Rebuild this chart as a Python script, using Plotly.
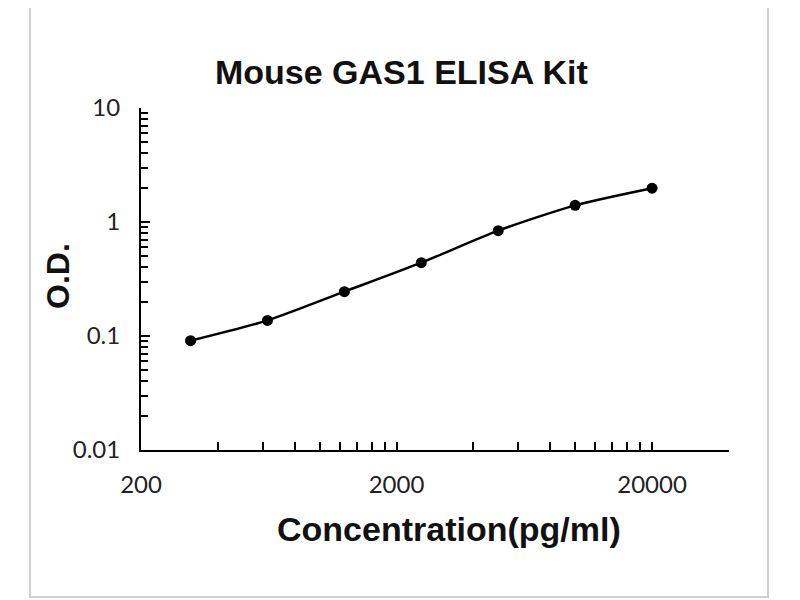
import numpy as np
import plotly.graph_objects as go

# standard curve points
conc = [312.5, 625, 1250, 2500, 5000, 10000, 20000]
od = [0.091, 0.137, 0.245, 0.44, 0.84, 1.40, 1.98]

x_major = [200, 2000, 20000, 40000]
x_major_labels = ["200", "2000", "20000", ""]
x_minor = [200 * k for k in range(2, 10)] + [2000 * k for k in range(2, 10)]
y_major = [0.01, 0.1, 1, 10]
y_major_labels = ["0.01", "0.1", "1", "10"]
y_minor = [d * k for d in (0.01, 0.1, 1) for k in range(2, 10)]

# page is offset by the browser's body margin, so plot box pixels are shifted by 8
L, T, W, H = 133, 100, 588, 342

def px(x):
    return (x - 8 - L) / W

def py(y):
    return (T + H - (y - 8)) / H

fig = go.Figure()
fig.add_trace(go.Scatter(
    x=conc, y=od, mode="lines+markers",
    line=dict(color="black", width=2.5, shape="spline", smoothing=0.7),
    marker=dict(color="black", size=11),
    showlegend=False,
))

tick_font = dict(family="Lato", size=24, color="#222222")

fig.update_xaxes(
    type="log", range=[np.log10(200), np.log10(40000)],
    showgrid=False, zeroline=False,
    showline=True, linecolor="black", linewidth=2,
    tickmode="array", tickvals=x_major, ticktext=x_major_labels,
    ticks="inside", ticklen=8, tickwidth=2, tickcolor="black",
    tickfont=tick_font, ticklabelstandoff=12,
    minor=dict(tickmode="array", tickvals=x_minor, ticks="inside",
               ticklen=8, tickwidth=2, tickcolor="black", showgrid=False),
)
fig.update_yaxes(
    type="log", range=[-2, 1],
    showgrid=False, zeroline=False,
    showline=True, linecolor="black", linewidth=2,
    tickmode="array", tickvals=y_major, ticktext=y_major_labels,
    ticks="inside", ticklen=9, tickwidth=2, tickcolor="black",
    tickfont=tick_font, ticklabelstandoff=14,
    minor=dict(tickmode="array", tickvals=y_minor, ticks="inside",
               ticklen=7, tickwidth=2, tickcolor="black", showgrid=False),
)

title_font = dict(family="Liberation Sans", size=34, color="#111111")
fig.add_annotation(text="<b>Mouse GAS1 ELISA Kit</b>", xref="paper", yref="paper",
                   x=px(401), y=py(72), showarrow=False,
                   font=title_font, xanchor="center", yanchor="middle")
fig.add_annotation(text="<b>Concentration(pg/ml)</b>", xref="paper", yref="paper",
                   x=px(449), y=py(529), showarrow=False,
                   font=title_font, xanchor="center", yanchor="middle")
fig.add_annotation(text="<b>O.D.</b>", xref="paper", yref="paper",
                   x=px(58), y=py(276), showarrow=False,
                   font=dict(family="Liberation Sans", size=32, color="#111111"),
                   textangle=-90, xanchor="center", yanchor="middle")

# light outer chart border
fig.add_shape(type="rect", xref="paper", yref="paper",
              x0=px(30), x1=px(768), y0=py(597), y1=py(1),
              line=dict(color="#d0d0d0", width=2), layer="below")

fig.update_layout(
    width=800, height=600, autosize=False,
    margin=dict(l=L, r=800 - L - W, t=T, b=600 - T - H),
    paper_bgcolor="white", plot_bgcolor="white",
)

fig.write_html("out.html")
